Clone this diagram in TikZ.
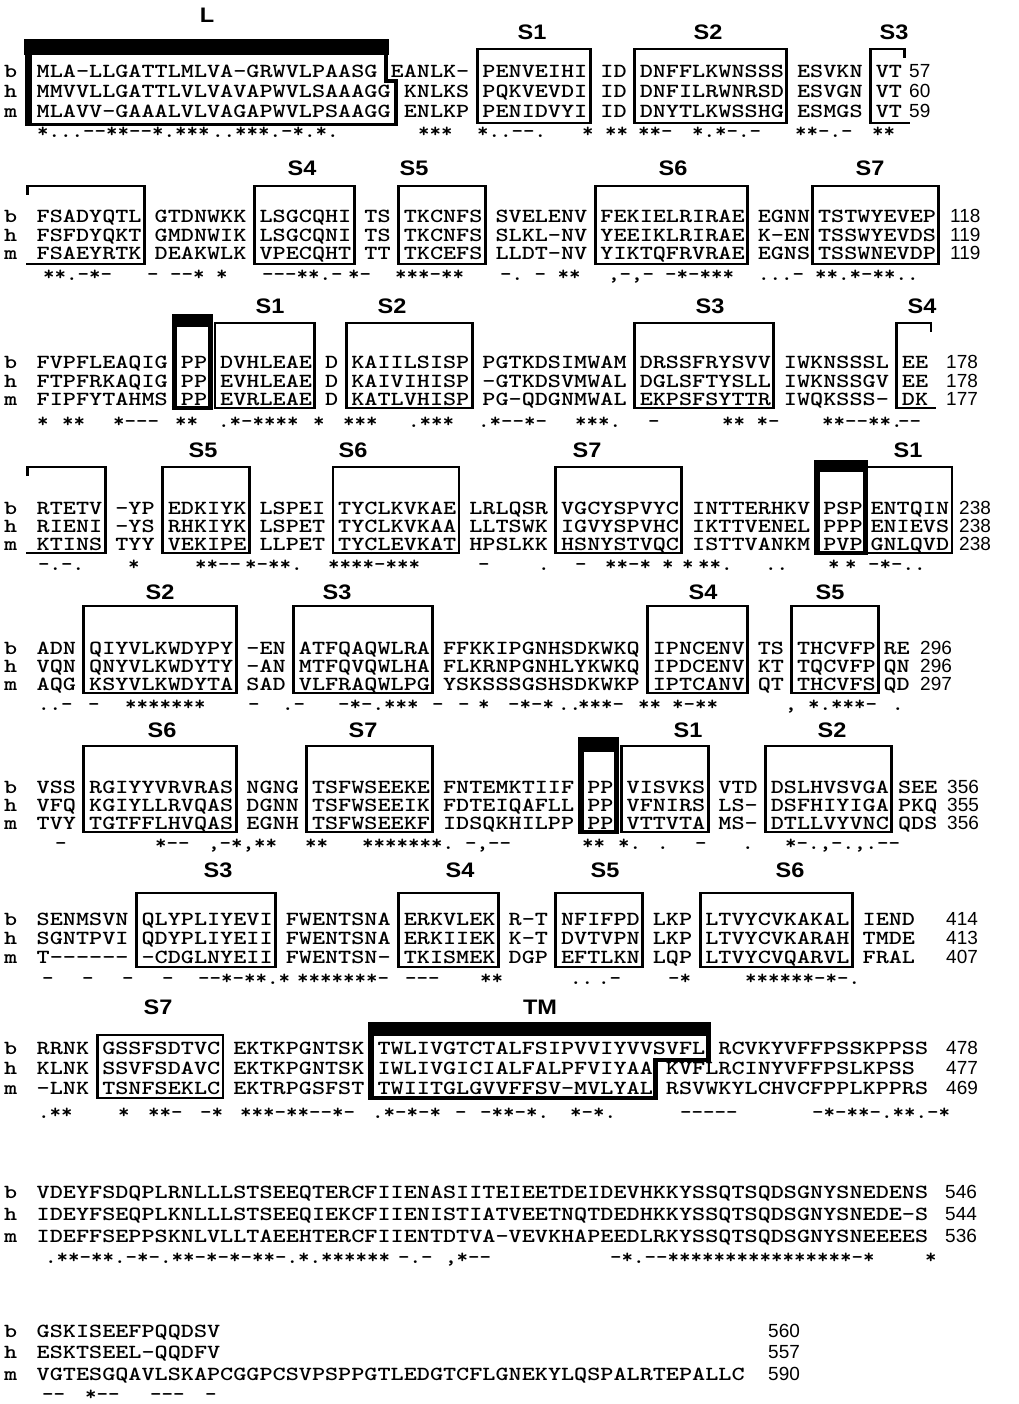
\documentclass[tikz,border=0pt]{standalone}
\usepackage{fontspec}
\newfontfamily\seqfont[Extension=.otf,FakeStretch=1.2486,Ligatures=TeXOff]{lmmonolt10-bold}
\newfontfamily\annfont[Extension=.otf,FakeStretch=1.095,Ligatures=TeXOff]{lmmonolt10-bold}
\newfontfamily\hdfont[FakeStretch=1.12]{Liberation Sans}
\newfontfamily\numfont{Liberation Sans}
\pgfmathdeclarefunction{cl}{1}{\pgfmathparse{10.28+13.11*#1}}
\newcounter{nd}
\tikzset{
 seq/.style={font=\seqfont\fontsize{20}{24}\selectfont, anchor=base west, inner sep=0pt, text height=12pt, text depth=1.5pt},
 lbl/.style={seq},
 ann/.style={font=\annfont\fontsize{20}{24}\selectfont, anchor=base west, inner sep=0pt, text height=8pt, text depth=0.5pt},
 num/.style={font=\numfont\fontsize{19}{22}\selectfont, anchor=base west, inner sep=0pt, text height=12pt, text depth=0pt},
 hd/.style={font=\hdfont\bfseries\fontsize{21}{24}\selectfont, inner sep=0pt},
 boxl/.style={line width=2.9pt, line join=miter},
}
\newcommand\rw[3]{\stepcounter{nd}\node[seq] (t\thend) at ({cl(#2)},\csname y#1\endcsname) {#3};}
\newcommand\seg[4]{\rw{b}{#1}{#2}\rw{h}{#1}{#3}\rw{m}{#1}{#4}}
\newcommand\labels{\node[lbl] (lb\blk) at (4,\yb) {b};\node[lbl] (lh\blk) at (4,\yh) {h};\node[lbl] (lm\blk) at (4,\ym) {m};}
\newcommand\nums[4]{\node[num] (nb\blk) at (#1,\yb) {#2};\node[num] (nh\blk) at (#1,\yh) {#3};\node[num] (nm\blk) at (#1,\ym) {#4};}
\newcommand\an[2]{\stepcounter{nd}\node[ann] (a\thend) at (#1,\ya) {#2};}
\newcommand\hd[3]{\stepcounter{nd}\node[hd] (h\thend) at (#1,#2) {#3};}
\newcommand\bx[2]{\draw[boxl] ({cl(#1)-5},\boxtop) rectangle ({cl(#2+1)+3},\boxbot);}
\newcommand\bxR[2]{\draw[boxl] ({cl(#2+1)+3},{\boxtop+9}) -- ({cl(#2+1)+3},\boxtop) -- ({cl(#1)-5},\boxtop) -- ({cl(#1)-5},\boxbot) -- ({cl(#2+1)+8},\boxbot);}
\newcommand\bxL[2]{\draw[boxl] ({cl(#1)-9},{\boxtop+9}) -- ({cl(#1)-9},\boxtop) -- ({cl(#2+1)+3},\boxtop) -- ({cl(#2+1)+3},\boxbot) -- (26,\boxbot);}
\newcommand\tbx[4]{%
 \fill ({cl(#1)-9},#3) rectangle ({cl(#2+1)+6},#4);
 \draw[line width=5.5pt] ({cl(#1)-6.2},#4) -- ({cl(#1)-6.2},\boxbot);
 \draw[line width=5pt] ({cl(#2+1)+3.5},#4) -- ({cl(#2+1)+3.5},\boxbot);
 \draw[line width=3.5pt] ({cl(#1)-9},\boxbot) -- ({cl(#2+1)+6},\boxbot);}
\begin{document}
\begin{tikzpicture}[x=1pt,y=-1pt]
\fill[white] (0,0) rectangle (1018,1404);
\useasboundingbox (0,0) rectangle (1018,1404);
% ---------------- block 1
\def\blk{1}\def\yb{78}\def\yh{98}\def\ym{118}\def\ya{138}\def\boxtop{49}\def\boxbot{123}
\hd{207}{15}{L}\hd{532}{32}{S1}\hd{708}{32}{S2}\hd{894}{32}{S3}
\fill (24,39) rectangle (389,55);
\draw[line width=7pt] (28.5,55) -- (28.5,125);
\draw[line width=4.5pt] (386,39) -- (386,81) -- (396,81) -- (396,126);
\draw[line width=3.5pt] (25,124.5) -- (398,124.5);
\bx{36}{43}\bx{48}{58}\bxR{66}{67}
\labels
\seg{2}{MLA-LLGATTLMLVA-GRWVLPAASG}{MMVVLLGATTLVLVAVAPWVLSAAAGG}{MLAVV-GAAALVLVAGAPWVLPSAAGG}
\rw{b}{29}{EANLK-}\rw{h}{30}{KNLKS}\rw{m}{30}{ENLKP}
\seg{36}{PENVEIHI}{PQKVEVDI}{PENIDVYI}
\seg{45}{ID}{ID}{ID}
\seg{48}{DNFFLKWNSSS}{DNFILRWNRSD}{DNYTLKWSSHG}
\seg{60}{ESVKN}{ESVGN}{ESMGS}
\seg{66}{VT}{VT}{VT}
\nums{909}{57}{60}{59}
\an{37}{*...--**--*.***}\an{212}{..***.-*.*.}\an{418}{***}\an{477}{*..--.}\an{582}{*}\an{605}{**}\an{638}{**-}\an{692}{*.*-.-}\an{795}{**-.-}\an{872}{**}
% ---------------- block 2
\def\blk{2}\def\yb{223}\def\yh{242}\def\ym{260}\def\ya{281}\def\boxtop{186}\def\boxbot{264}
\hd{302}{168}{S4}\hd{414}{168}{S5}\hd{673}{168}{S6}\hd{870}{168}{S7}
\bxL{2}{9}\bx{19}{25}\bx{30}{35}\bx{45}{55}\bx{61.6}{69.6}
\labels
\seg{2}{FSADYQTL}{FSFDYQKT}{FSAEYRTK}
\seg{11}{GTDNWKK}{GMDNWIK}{DEAKWLK}
\seg{19}{LSGCQHI}{LSGCQNI}{VPECQHT}
\seg{27}{TS}{TS}{TT}
\seg{30}{TKCNFS}{TKCNFS}{TKCEFS}
\seg{37}{SVELENV}{SLKL-NV}{LLDT-NV}
\seg{45}{FEKIELRIRAE}{YEEIKLRIRAE}{YIKTQFRVRAE}
\seg{57}{EGNN}{K-EN}{EGNS}
\seg{61.6}{TSTWYEVEP}{TSSWYEVDS}{TSSWNEVDP}
\nums{950}{118}{119}{119}
\an{43}{**.-*-}\an{147}{-~--*~*}\an{262}{---**.-}\an{348}{*-}\an{395}{***-**}\an{500}{-.~-~**}\an{608}{,-,-}\an{665}{-*-***}\an{758}{...-}\an{815}{**.*-**..}
% ---------------- block 3
\def\blk{3}\def\yb{368}\def\yh{387}\def\ym{405}\def\ya{427}\def\boxtop{323}\def\boxbot{408}
\hd{270}{306}{S1}\hd{392}{306}{S2}\hd{710}{306}{S3}\hd{922}{306}{S4}
\tbx{13}{14}{314}{327}
\bx{16}{22}\bx{26}{34}\bx{48}{57}\bxR{68}{69}
\labels
\seg{2}{FVPFLEAQIG}{FTPFRKAQIG}{FIPFYTAHMS}
\seg{13}{PP}{PP}{PP}
\seg{16}{DVHLEAE}{EVHLEAE}{EVRLEAE}
\seg{24}{D}{D}{D}
\seg{26}{KAIILSISP}{KAIVIHISP}{KATLVHISP}
\seg{36}{PGTKDSIMWAM}{-GTKDSVMWAL}{PG-QDGNMWAL}
\seg{48}{DRSSFRYSVV}{DGLSFTYSLL}{EKPSFSYTTR}
\seg{59}{IWKNSSSL}{IWKNSSGV}{IWQKSSS-}
\seg{68}{EE}{EE}{DK}
\nums{946}{178}{178}{177}
\an{37}{*}\an{62}{**}\an{113}{*---}\an{175}{**}\an{218}{.*-****}\an{313}{*}\an{343}{***}\an{408}{.***}\an{478}{.*--*-}\an{575}{***.}\an{648}{-}\an{722}{**~*-}\an{822}{**--**.}\an{898}{--}
% ---------------- block 4
\def\blk{4}\def\yb{514}\def\yh{532}\def\ym{550}\def\ya{570}\def\boxtop{467}\def\boxbot{553}
\hd{203}{450}{S5}\hd{353}{450}{S6}\hd{587}{450}{S7}\hd{908}{450}{S1}
\tbx{62}{64}{460}{472}
\bxL{2}{6}\bx{12}{17}\bx{25}{33}\bx{42}{50}\bx{65.6}{70.6}
\labels
\seg{2}{RTETV}{RIENI}{KTINS}
\seg{8}{-YP}{-YS}{TYY}
\seg{12}{EDKIYK}{RHKIYK}{VEKIPE}
\seg{19}{LSPEI}{LSPET}{LLPET}
\seg{25}{TYCLKVKAE}{TYCLKVKAA}{TYCLEVKAT}
\seg{35}{LRLQSR}{LLTSWK}{HPSLKK}
\seg{42}{VGCYSPVYC}{IGVYSPVHC}{HSNYSTVQC}
\seg{52}{INTTERHKV}{IKTTVENEL}{ISTTVANKM}
\seg{62}{PSP}{PPP}{PVP}
\seg{65.6}{ENTQIN}{ENIEVS}{GNLQVD}
\nums{959}{238}{238}{238}
\an{38}{-.-.}\an{128}{*}\an{195}{**--}\an{245}{*-**.}\an{328}{****-***}\an{478}{-}\an{538}{.}\an{575}{-}\an{605}{**-*}\an{662}{*}\an{682}{*}\an{698}{**.}\an{765}{..}\an{828}{*}\an{845}{*}\an{868}{-*-..}
% ---------------- block 5
\def\blk{5}\def\yb{654}\def\yh{672}\def\ym{690}\def\ya{710}\def\boxtop{606}\def\boxbot{693}
\hd{160}{592}{S2}\hd{337}{592}{S3}\hd{703}{592}{S4}\hd{830}{592}{S5}
\bx{6}{16}\bx{22}{31}\bx{49}{55}\bx{60}{65}
\labels
\seg{2}{ADN}{VQN}{AQG}
\seg{6}{QIYVLKWDYPY}{QNYVLKWDYTY}{KSYVLKWDYTA}
\seg{18}{-EN}{-AN}{SAD}
\seg{22}{ATFQAQWLRA}{MTFQVQWLHA}{VLFRAQWLPG}
\seg{33}{FFKKIPGNHSDKWKQ}{FLKRNPGNHLYKWKQ}{YSKSSSGSHSDKWKP}
\seg{49}{IPNCENV}{IPDCENV}{IPTCANV}
\seg{57}{TS}{KT}{QT}
\seg{60}{THCVFP}{TQCVFP}{THCVFS}
\seg{66.6}{RE}{QN}{QD}
\nums{920}{296}{296}{297}
\an{38}{..-}\an{88}{-}\an{125}{*******}\an{248}{-}\an{282}{.-}\an{338}{-*-.***}\an{432}{-}\an{458}{-}\an{478}{*}\an{508}{-*-*}\an{558}{..}\an{578}{***-}\an{638}{**}\an{672}{*-**}\an{785}{,}\an{808}{*.***-}\an{892}{.}
% ---------------- block 6
\def\blk{6}\def\yb{793}\def\yh{811}\def\ym{829}\def\ya{849}\def\boxtop{746}\def\boxbot{832}
\hd{162}{730}{S6}\hd{363}{730}{S7}\hd{688}{730}{S1}\hd{832}{730}{S2}
\tbx{44}{45}{737}{752}
\bx{6}{16}\bx{23}{31}\bx{47}{52}\bx{58}{66}
\labels
\seg{2}{VSS}{VFQ}{TVY}
\seg{6}{RGIYYVRVRAS}{KGIYLLRVQAS}{TGTFFLHVQAS}
\seg{18}{NGNG}{DGNN}{EGNH}
\seg{23}{TSFWSEEKE}{TSFWSEEIK}{TSFWSEEKF}
\seg{33}{FNTEMKTIIF}{FDTEIQAFLL}{IDSQKHILPP}
\seg{44}{PP}{PP}{PP}
\seg{47}{VISVKS}{VFNIRS}{VTTVTA}
\seg{54}{VTD}{LS-}{MS-}
\seg{58}{DSLHVSVGA}{DSFHIYIGA}{DTLLVYVNC}
\seg{67.7}{SEE}{PKQ}{QDS}
\nums{947}{356}{355}{356}
\an{55}{-}\an{155}{*--}\an{208}{,-*,**}\an{305}{**}\an{362}{*******.}\an{465}{-,--}\an{582}{**}\an{618}{*.}\an{657}{.}\an{695}{-}\an{742}{.}\an{785}{*-.,-.,.--}
% ---------------- block 7
\def\blk{7}\def\yb{925}\def\yh{944}\def\ym{963}\def\ya{984}\def\boxtop{893}\def\boxbot{967}
\hd{218}{870}{S3}\hd{460}{870}{S4}\hd{605}{870}{S5}\hd{790}{870}{S6}
\bx{10}{19}\bx{30}{36}\bx{42}{47}\bx{53}{63}
\labels
\seg{2}{SENMSVN}{SGNTPVI}{T------}
\seg{10}{QLYPLIYEVI}{QDYPLIYEII}{-CDGLNYEII}
\seg{21}{FWENTSNA}{FWENTSNA}{FWENTSN-}
\seg{30}{ERKVLEK}{ERKIIEK}{TKISMEK}
\seg{38}{R-T}{K-T}{DGP}
\seg{42}{NFIFPD}{DVTVPN}{EFTLKN}
\seg{49}{LKP}{LKP}{LQP}
\seg{53}{LTVYCVKAKAL}{LTVYCVKARAH}{LTVYCVQARVL}
\seg{65}{IEND}{TMDE}{FRAL}
\nums{946}{414}{413}{407}
\an{42}{-}\an{82}{-}\an{122}{-}\an{162}{-}\an{198}{--*-**.*}\an{297}{*******-}\an{405}{---}\an{480}{**}\an{570}{..}\an{598}{.-}\an{668}{-*}\an{745}{******-*-.}
% ---------------- block 8
\def\blk{8}\def\yb{1054}\def\yh{1074}\def\ym{1094}\def\ya{1118}\def\boxtop{1035}\def\boxbot{1098}
\hd{158}{1007}{S7}\hd{540}{1007}{TM}
\bx{7}{15}
\fill ({cl(28)-9},1022) rectangle ({cl(53)+6},1036);
\draw[line width=5.5pt] ({cl(28)-6.2},1036) -- ({cl(28)-6.2},1098);
\draw[line width=4.5pt] ({cl(53)+3.5},1022) -- ({cl(53)+3.5},1060) -- ({cl(49)+3},1060) -- ({cl(49)+3},1100);
\draw[line width=3.5pt] ({cl(28)-9},1098) -- ({cl(49)+5},1098);
\labels
\seg{2}{RRNK}{KLNK}{-LNK}
\seg{7}{GSSFSDTVC}{SSVFSDAVC}{TSNFSEKLC}
\seg{17}{EKTKPGNTSK}{EKTKPGNTSK}{EKTRPGSFST}
\rw{b}{28}{TWLIVGTCTALFSIPVVIYVVSVFL}\rw{h}{28}{IWLIVGICIALFALPFVIYAA}\rw{m}{28}{TWIITGLGVVFFSV-MVLYAL}
\rw{b}{54}{RCVKYVFFPSSKPPSS}\rw{h}{50}{KVFLRCINYVFFPSLKPSS}\rw{m}{50}{RSVWKYLCHVCFPPLKPPRS}
\nums{946}{478}{477}{469}
\an{38}{.**}\an{118}{*}\an{148}{**-}\an{200}{-*}\an{240}{***-**--*-}\an{372}{.*-*-*}\an{455}{-}\an{480}{-**-*.}\an{570}{*-*.}\an{680}{-----}\an{812}{-*-**-.**.-*}
% ---------------- block 9
\def\blk{9}\def\yb{1198}\def\yh{1220}\def\ym{1242}\def\ya{1263}
\labels
\seg{2}{VDEYFSDQPLRNLLLSTSEEQTERCFIIENASIITEIEETDEIDEVHKKYSSQTSQDSGNYSNEDENS}{IDEYFSEQPLKNLLLSTSEEQIEKCFIIENISTIATVEETNQTDEDHKKYSSQTSQDSGNYSNEDE-S}{IDEFFSEPPSKNLVLLTAEEHTERCFIIENTDTVA-VEVKHAPEEDLRKYSSQTSQDSGNYSNEEEES}
\nums{945}{546}{544}{536}
\an{45}{.**-**.-*-.**-*-*-**-.*.******}\an{398}{-.-}\an{445}{,*--}\an{610}{-*.--****************-*}\an{925}{*}
% ---------------- block 10
\def\blk{10}\def\yb{1337}\def\yh{1358}\def\ym{1380}\def\ya{1400}
\labels
\rw{b}{2}{GSKISEEFPQQDSV}\rw{h}{2}{ESKTSEEL-QQDFV}\rw{m}{2}{VGTESGQAVLSKAPCGGPCSVPSPPGTLEDGTCFLGNEKYLQSPALRTEPALLC}
\nums{768}{560}{557}{590}
\an{42}{--}\an{85}{*--}\an{150}{---}\an{205}{-}
\end{tikzpicture}
\end{document}
